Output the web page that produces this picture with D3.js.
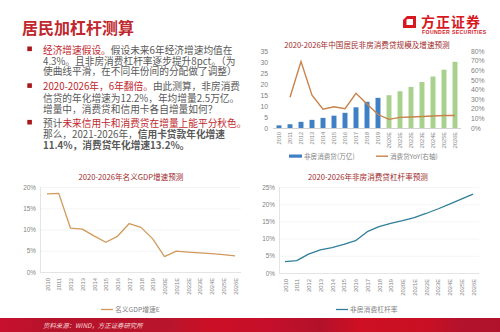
<!DOCTYPE html>
<html><head><meta charset="utf-8">
<script src="https://cdn.jsdelivr.net/npm/d3@7"></script>
<style>body{margin:0;background:#fff}svg{display:block}</style>
</head><body><svg id="c" width="500" height="332"></svg>
<script>
const years = ["2010","2011","2012","2013","2014","2015","2016","2017","2018","2019","2020E","2021E","2022E","2023E","2024E","2025E","2026E"];
const loanScale = [1.2,1.7,2.8,3.7,4.6,5.6,6.9,9.4,11.9,13.7,14.9,16.7,18.7,20.9,23.4,26.5,30.1];
const loanYoY = [null,32,69,34,19.5,22,20,36,25,14,9,11,11.5,12,12.5,13,13];
const gdpGrowth = [18.4,18.5,10.3,10.1,8.5,7.0,8.4,11.4,10.5,7.8,3.6,4.9,4.7,4.5,4.3,4.1,3.8];
const leverage = [3.3,3.6,5.5,6.7,7.4,8.3,9.4,12.0,13.5,14.4,15.2,16.1,17.3,18.6,20.0,21.5,22.9];
const leftTicks = [0,5,10,15,20,25,30,35];
const rightTicks = [0,10,20,30,40,50,60,70,80];
const gdpTicks = [0,5,10,15,20];
const levTicks = [0,5,10,15,20,25];

const svg = d3.select("#c");
const CJK = "'Noto Sans CJK SC','Noto Sans',sans-serif";
const RED = "#C0282D", GRAY = "#595959", TITLE = "#9E2A2B", AX = "#7F7F7F";

// header
svg.append("text").attr("x",22).attr("y",34).attr("font-family",CJK).attr("font-size",16)
  .attr("font-weight",700).attr("fill",RED).text("居民加杠杆测算");
// logo
svg.append("path").attr("fill","#D7191F").attr("fill-rule","evenodd")
  .attr("d","M407,16 L416,16 L416,28 L403,28 L403,20 Z M406.5,19.5 L406.5,25 L413,25 L413,19 L408,19 Z");
svg.append("text").attr("x",421).attr("y",27).attr("font-family",CJK).attr("font-size",14)
  .attr("font-weight",700).attr("fill","#D7191F").attr("letter-spacing",1).text("方正证券");
svg.append("text").attr("x",422).attr("y",34).attr("font-family","'Liberation Sans',sans-serif").attr("font-size",5.2)
  .attr("font-weight",700).attr("fill","#D7191F").attr("letter-spacing",0.35).text("FOUNDER SECURITIES");

// text block
const lines = [
  {y:53.5,b:true,s:[["经济增速假设。",RED,400],["假设未来6年经济增速均值在",GRAY,400]]},
  {y:64.8,s:[["4.3%。且非房消费杠杆率逐步提升8pct。（为",GRAY,400]]},
  {y:75.4,s:[["使曲线平滑，在不同年份间的分配做了调整）",GRAY,400]]},
  {y:90.3,b:true,s:[["2020-2026年，6年翻倍。",RED,400],["由此测算，非房消费",GRAY,400]]},
  {y:101.6,s:[["信贷的年化增速为12.2%，年均增量2.5万亿。",GRAY,400]]},
  {y:112.6,s:[["增量中，消费贷和信用卡各自增量如何？",GRAY,400]]},
  {y:126.9,b:true,s:[["预计",GRAY,400],["未来信用卡和消费贷在增量上能平分秋色。",RED,400]]},
  {y:137.7,s:[["那么，2021-2026年，",GRAY,400],["信用卡贷款年化增速",GRAY,700]]},
  {y:148.6,s:[["11.4%，消费贷年化增速13.2%。",GRAY,700]]}
];
lines.forEach(l=>{
  if(l.b) svg.append("rect").attr("x",27.3).attr("y",l.y-7).attr("width",4.6).attr("height",4.6).attr("fill","#A8171C");
  const t = svg.append("text").attr("x",43).attr("y",l.y).attr("font-family",CJK).attr("font-size",9.7);
  l.s.forEach(s=>t.append("tspan").attr("fill",s[1]).attr("font-weight",s[2]).text(s[0]));
});

// ---------- top-right chart ----------
svg.append("text").attr("x",367).attr("y",47.5).attr("text-anchor","middle").attr("font-family",CJK)
  .attr("font-size",7.6).attr("fill",TITLE).text("2020-2026年中国居民非房消费贷规模及增速预测");
const xb = d3.scaleBand().domain(years).range([273.5,460.5]).paddingInner(0.55).paddingOuter(0.275);
const yl = d3.scaleLinear().domain([0,35]).range([128,51]);
const yr = d3.scaleLinear().domain([0,80]).range([128,51]);
const g1 = svg.append("g");
g1.selectAll("rect.bar").data(loanScale).join("rect").attr("class","bar")
  .attr("x",(d,i)=>xb(years[i])).attr("width",xb.bandwidth())
  .attr("y",d=>yl(d)).attr("height",d=>yl(0)-yl(d))
  .attr("fill",(d,i)=>i<10?"#3F7FC4":"#A9D18E");
g1.append("line").attr("x1",273).attr("x2",461).attr("y1",128.5).attr("y2",128.5).attr("stroke","#BFBFBF").attr("stroke-width",0.7);
const lineYoY = d3.line().defined(d=>d!=null).x((d,i)=>xb(years[i])+xb.bandwidth()/2).y(d=>yr(d));
g1.append("path").datum(loanYoY).attr("d",lineYoY).attr("fill","none").attr("stroke","#C8834C").attr("stroke-width",1.4);
const al = g1.append("g").attr("transform","translate(268,0)").call(d3.axisLeft(yl).tickValues(leftTicks).tickSize(0).tickPadding(0));
const ar = g1.append("g").attr("transform","translate(471,0)").call(d3.axisRight(yr).tickValues(rightTicks).tickSize(0).tickPadding(0).tickFormat(d=>d+"%"));
[al,ar].forEach(a=>{a.select(".domain").remove();a.selectAll("text").attr("font-family","'Liberation Sans',sans-serif").attr("font-size",6.8).attr("fill",AX);});
const ax1 = g1.append("g").attr("transform","translate(0,128)").call(d3.axisBottom(xb).tickSize(0));
ax1.select(".domain").remove();
ax1.selectAll("text").attr("transform","rotate(-90)").attr("x",-4).attr("y",0).attr("dy","0.35em")
  .attr("text-anchor","end").attr("font-family","'Liberation Sans',sans-serif").attr("font-size",5.6).attr("fill",AX);
// legend
g1.append("rect").attr("x",289).attr("y",154.5).attr("width",13).attr("height",3.2).attr("fill","#3F7FC4");
g1.append("text").attr("x",304).attr("y",158.7).attr("font-family",CJK).attr("font-size",6.6).attr("fill",AX).text("非房消费贷(万亿)");
g1.append("line").attr("x1",376).attr("x2",388).attr("y1",156.2).attr("y2",156.2).attr("stroke","#C8834C").attr("stroke-width",1.4);
g1.append("text").attr("x",390).attr("y",158.7).attr("font-family",CJK).attr("font-size",6.6).attr("fill",AX).text("消费贷YoY(右轴)");

// ---------- line chart helper ----------
function lineChart(opt){
  const g = svg.append("g");
  g.append("text").attr("x",opt.tx).attr("y",opt.ty).attr("text-anchor","middle").attr("font-family",CJK)
    .attr("font-size",7.6).attr("fill",TITLE).text(opt.title);
  const x = d3.scalePoint().domain(years).range(opt.xr);
  const y = d3.scaleLinear().domain([0,d3.max(opt.ticks)]).range(opt.yr);
  g.selectAll("line.grid").data(opt.ticks.slice(1)).join("line").attr("class","grid")
    .attr("x1",opt.ax).attr("x2",opt.xr[1]+6).attr("y1",d=>y(d)+0.5).attr("y2",d=>y(d)+0.5)
    .attr("stroke","#F0F0F0").attr("stroke-width",0.7);
  g.append("line").attr("x1",opt.ax+0.5).attr("x2",opt.ax+0.5).attr("y1",opt.yr[1]).attr("y2",opt.yr[0])
    .attr("stroke","#D9D9D9").attr("stroke-width",0.7);
  g.append("line").attr("x1",opt.ax).attr("x2",opt.xr[1]+6).attr("y1",opt.yr[0]+0.5).attr("y2",opt.yr[0]+0.5)
    .attr("stroke","#D9D9D9").attr("stroke-width",0.7);
  const ay = g.append("g").attr("transform",`translate(${opt.ax-4},0)`)
    .call(d3.axisLeft(y).tickValues(opt.ticks).tickSize(0).tickPadding(0).tickFormat(d=>d+"%"));
  ay.select(".domain").remove();
  ay.selectAll("text").attr("font-family","'Liberation Sans',sans-serif").attr("font-size",6.4).attr("fill",AX);
  const axb = g.append("g").attr("transform",`translate(0,${opt.yr[0]})`).call(d3.axisBottom(x).tickSize(0));
  axb.select(".domain").remove();
  axb.selectAll("text").attr("transform","rotate(-90)").attr("x",-6).attr("y",0).attr("dy","0.35em")
    .attr("text-anchor","end").attr("font-family","'Liberation Sans',sans-serif").attr("font-size",5.8).attr("fill",AX);
  g.append("path").datum(opt.data).attr("d",d3.line().x((d,i)=>x(years[i])).y(d=>y(d)))
    .attr("fill","none").attr("stroke",opt.color).attr("stroke-width",1.3).attr("stroke-linejoin","round");
  g.append("line").attr("x1",opt.lx).attr("x2",opt.lx+12).attr("y1",309.5).attr("y2",309.5).attr("stroke",opt.color).attr("stroke-width",1.3);
  g.append("text").attr("x",opt.lx+14).attr("y",312).attr("font-family",CJK).attr("font-size",6.8).attr("fill",AX).text(opt.legend);
}
lineChart({title:"2020-2026年名义GDP增速预测",tx:131,ty:179.5,xr:[47,235],yr:[272,187],ax:40,ticks:gdpTicks,
  data:gdpGrowth,color:"#D09A5C",lx:101,legend:"名义GDP增速E"});
lineChart({title:"2020-2026年非房消费贷杠杆率预测",tx:368,ty:180,xr:[285,473],yr:[273,187],ax:279,ticks:levTicks,
  data:leverage,color:"#2F7F99",lx:336,legend:"非房消费杠杆率"});

// footer
const defs = svg.append("defs");
const grad = defs.append("linearGradient").attr("id","fg").attr("x1","0").attr("x2","1").attr("y1","0").attr("y2","0");
[[0,"#C8102E"],[0.1,"#B5132B"],[0.34,"#B8152C"],[0.42,"#CC0F25"],[0.54,"#C50F2A"],[0.64,"#B2112B"],[0.72,"#CE1022"],[0.86,"#C81024"],[0.92,"#B3122C"],[1,"#B0122C"]]
  .forEach(s=>grad.append("stop").attr("offset",s[0]).attr("stop-color",s[1]));
svg.append("rect").attr("x",0).attr("y",318).attr("width",500).attr("height",14).attr("fill","url(#fg)");
svg.append("text").attr("x",43).attr("y",327.5).attr("font-family",CJK).attr("font-size",6.4)
  .attr("font-style","italic").attr("fill","#F6D6D6").text("资料来源：WIND，方正证券研究所");
</script></body></html>
